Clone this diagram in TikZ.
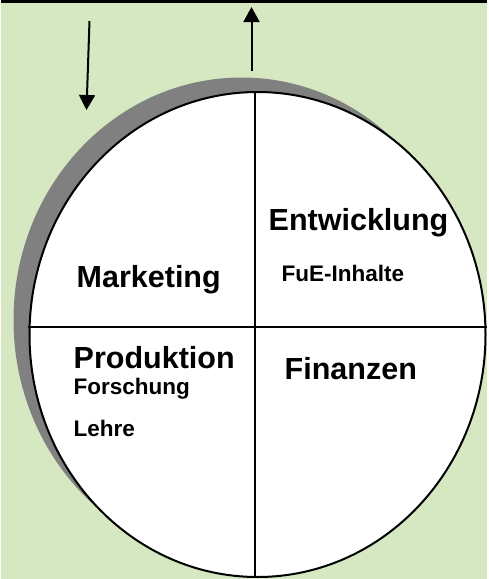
\documentclass[tikz,border=0pt]{standalone}
\usepackage{fontspec}
\setmainfont{Liberation Sans}
\usetikzlibrary{shapes.geometric, arrows.meta, shadows}
\definecolor{cBack}{RGB}{214,232,193}
\definecolor{cShadow}{RGB}{128,128,128}
\tikzset{
	kreis/.style={ellipse, draw=black, line width=2pt, fill=white, inner sep=0pt, minimum width=456pt, minimum height=485pt},
	pfeil/.style={-{Triangle[length=15pt, width=16pt]}, line width=2pt},
	teil/.style={line width=2pt},
}

\begin{document}
\begin{tikzpicture}[x=1pt, y=-1pt,
		gross/.style={anchor=base west, inner sep=0pt, font=\fontsize{30.5}{36}\selectfont\bfseries},
		klein/.style={anchor=base west, inner sep=0pt, font=\fontsize{22.5}{27}\selectfont\bfseries}]
	\fill[cBack] (0,0) rectangle (485,579);
	\draw[line width=3pt] (0,1.5) -- (485,1.5);
	% circle with its shadow and the four fields
	\node[kreis, drop shadow={fill=cShadow, opacity=1, shadow xshift=-16pt, shadow yshift=14.5pt}] (k) at (256,334.5) {};
	\draw[teil] ([xshift=-3pt]k.north) -- ([xshift=-3pt]k.south);
	\draw[teil] ([yshift=7.5pt]k.west) -- ([yshift=7.5pt]k.east);
	\node[gross] (ent) at (267,230) {Entwicklung};
	\node[klein] (fue) at (280,281) {FuE-Inhalte};
	\node[gross] (mar) at (75,287) {Marketing};
	\node[gross] (pro) at (72,368) {Produktion};
	\node[klein] (for) at (72,394.5) {Forschung};
	\node[klein] (leh) at (72,436.5) {Lehre};
	\node[gross] (fin) at (283,379) {Finanzen};
	% in and out
	\coordinate (ein0) at (88,21);
	\coordinate (ein1) at (85,110);
	\coordinate (aus0) at (250,71);
	\coordinate (aus1) at (250,7);
	\draw[pfeil] (ein0) -- (ein1);
	\draw[pfeil] (aus0) -- (aus1);
\end{tikzpicture}
\end{document}
